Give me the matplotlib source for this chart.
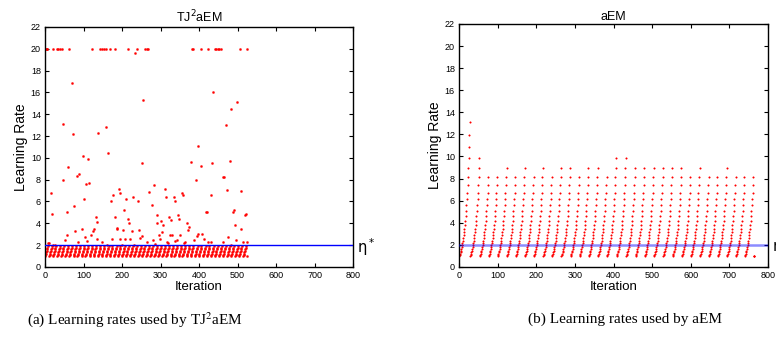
import matplotlib
matplotlib.use("Agg")
import matplotlib.pyplot as plt
import matplotlib.transforms as mtransforms
from matplotlib import font_manager


# learning-rate ladder (grows by x1.1 per accepted step)
RATE_STEPS = [1.00, 1.10, 1.21, 1.33, 1.46, 1.61, 1.77, 1.95, 2.14, 2.36,
              2.59, 2.85, 3.14, 3.45, 3.80, 4.18, 4.59, 5.05, 5.56, 6.12,
              6.73, 7.40, 8.14, 8.95, 9.85, 10.83, 11.92, 13.11]
ETA_STAR = 2.0

# aEM: highest ladder step reached in each cycle before the reset to 1
aem_cycle_tops = [27, 24, 22, 22, 23, 22, 23, 22, 23, 22, 23, 23, 22, 23, 23, 22,
                  24, 24, 23, 23, 23, 23, 23, 23, 22, 23, 22, 22, 23, 22, 22, 22]
aem_tail = [1.0, 1.0, 1.0]

# TJ2aEM: short ladders below eta*, started at these iterations
tj_cycle_starts = [0, 11, 21, 32, 42, 53, 63, 74, 84, 95, 105, 116, 126, 137, 147,
                   158, 168, 179, 189, 200, 210, 221, 231, 242, 252, 263, 273, 284,
                   294, 305, 315, 326, 336, 347, 357, 368, 378, 389, 399, 410, 420,
                   431, 441, 452, 462, 473, 483, 494, 504, 515, 525]
tj_ladder_len = 8
tj_last_iter = 525

# TJ2aEM: jump steps above eta*
tj_jump_iters = [2, 4, 6, 21, 30, 34, 39, 43, 63, 121, 143, 148, 152, 159, 169, 181,
                 215, 240, 260, 264, 268, 382, 385, 405, 422, 442, 445, 448, 451, 457,
                 506, 524, 233,
                 69, 48, 72, 16, 17, 48, 56, 59, 57, 51, 75, 78, 82, 87, 85, 95, 98,
                 101, 104, 106, 110, 112, 115, 119, 124, 127, 132, 134, 137, 135, 147,
                 158, 163, 160, 171, 176, 173, 183, 186, 188, 191, 195, 196, 200, 203,
                 206, 208, 210, 216, 218, 220, 227, 229, 232, 241, 245, 246, 251, 253,
                 255, 266, 271, 278, 281, 283, 285, 290, 292, 296, 298, 301, 304, 307,
                 311, 313, 316, 320, 323, 325, 327, 330, 335, 337, 338, 342, 345, 348,
                 350, 356, 359, 361, 363, 368, 372, 374, 379, 388, 392, 394, 396, 398,
                 406, 408, 413, 418, 420, 424, 430, 431, 433, 435, 461, 464, 461, 470,
                 473, 476, 480, 483, 484, 487, 491, 494, 497, 498, 508, 510, 513, 519,
                 522, 525, 7, 11, 22, 26]
tj_jump_rates = [20.0] * 32 + [19.6,
                 16.9, 13.1, 12.2, 6.75, 4.85, 8.0, 5.0, 9.2, 2.9, 2.45, 5.6, 3.3, 8.35,
                 8.5, 2.3, 3.45, 10.2, 6.2, 2.75, 7.6, 2.35, 9.9, 7.7, 2.9, 3.3, 3.5,
                 4.55, 4.15, 12.3, 2.55, 2.25, 12.8, 10.4, 2.05, 6.0, 6.55, 2.6, 4.55,
                 3.45, 3.55, 7.15, 6.8, 2.55, 2.05, 3.35, 5.2, 2.55, 6.2, 4.35, 4.05,
                 2.6, 3.3, 6.4, 2.0, 6.05, 3.35, 2.65, 2.8, 9.55, 15.3, 2.25, 6.85, 5.65,
                 2.45, 7.55, 2.1, 4.0, 4.8, 2.9, 2.6, 4.2, 3.2, 3.85, 7.15, 6.45, 2.3,
                 2.15, 4.55, 2.9, 4.3, 2.9, 6.45, 6.0, 2.4, 2.5, 4.8, 4.4, 2.9, 6.75,
                 6.55, 2.2, 2.25, 4.0, 3.4, 3.7, 9.65, 2.45, 8.0, 2.8, 3.0, 11.05, 9.25,
                 3.0, 2.55, 5.0, 5.05, 2.3, 2.3, 6.6, 9.55, 16.0, 8.25, 8.25, 2.25, 13.0,
                 7.05, 2.7, 9.7, 14.5, 2.05, 5.0, 5.2, 3.8, 2.45, 15.1, 7.0, 3.45, 2.25,
                 4.75, 4.85, 2.3, 2.2, 2.15, 2.05, 2.05]

names = {f.name for f in font_manager.fontManager.ttflist}
SANS = "Liberation Sans"
NARROW = "Liberation Sans Narrow" if "Liberation Sans Narrow" in names else SANS
SERIF = "Liberation Serif"


def aem_points():
	xs, ys = [], []
	it = 1
	for top in aem_cycle_tops:
		for k in range(top + 1):
			xs.append(it)
			ys.append(RATE_STEPS[k])
			it += 1
	for r in aem_tail:
		xs.append(it)
		ys.append(r)
		it += 1
	return xs, ys


def tj_points():
	xs, ys = [], []
	for s in tj_cycle_starts:
		for k in range(tj_ladder_len):
			if s + k <= tj_last_iter:
				xs.append(s + k)
				ys.append(RATE_STEPS[k])
	xs += tj_jump_iters
	ys += tj_jump_rates
	return xs, ys


def style_axes(ax, title):
	ax.set_xlim(0, 800)
	ax.set_ylim(0, 22)
	ax.set_xticks(range(0, 801, 100))
	ax.set_yticks(range(0, 23, 2))
	ax.tick_params(direction="in", top=True, right=True, length=3, width=0.8, pad=3)
	for lab in ax.get_xticklabels():
		lab.set_fontfamily(NARROW)
		lab.set_fontsize(6.5)
	for lab in ax.get_yticklabels():
		lab.set_fontfamily(SANS)
		lab.set_fontsize(6.5)
	for sp in ax.spines.values():
		sp.set_linewidth(1.0)
	ax.set_title(title, fontsize=9, family=SANS, pad=3)
	ax.set_xlabel("Iteration", fontsize=9.5, family=NARROW, labelpad=1)
	ax.set_ylabel("Learning Rate", fontsize=10, family=SANS, labelpad=2)


def draw_eta(ax):
	# eta* marker just outside the right spine
	trans = mtransforms.blended_transform_factory(ax.transAxes, ax.transData)
	ax.text(1.012, ETA_STAR - 0.15, "η$^*$", transform=trans, fontsize=10.5,
	        family="DejaVu Sans", va="center", ha="left", clip_on=False)


def main():
	fig = plt.figure(figsize=(7.76, 3.37), dpi=100)
	ax1 = fig.add_axes([0.058, 0.208, 0.397, 0.712])
	ax2 = fig.add_axes([0.5915, 0.208, 0.3982, 0.721])

	# TJ2aEM
	x, y = tj_points()
	ax1.plot(x, y, "o", ms=1.6, mfc="red", mec="red", mew=0.2, zorder=2)
	ax1.axhline(ETA_STAR, color="#0000ff", lw=1.0, zorder=3)
	style_axes(ax1, r"TJ$^2$aEM")
	draw_eta(ax1)

	# aEM
	x, y = aem_points()
	ax2.plot(x, y, "o", ms=1.2, mfc="red", mec="red", mew=0.2, zorder=2)
	ax2.axhline(ETA_STAR, color="#0000ff", lw=1.8, alpha=0.45, zorder=3)
	style_axes(ax2, "aEM")
	draw_eta(ax2)

	fig.text(0.174, 0.053, r"(a) Learning rates used by TJ$^2$aEM", fontsize=11,
	         family=SERIF, math_fontfamily="stix", ha="center", va="center")
	fig.text(0.805, 0.053, "(b) Learning rates used by aEM", fontsize=11,
	         family=SERIF, ha="center", va="center")

	fig.savefig("out.png", dpi=100)


if __name__ == '__main__':
	main()
